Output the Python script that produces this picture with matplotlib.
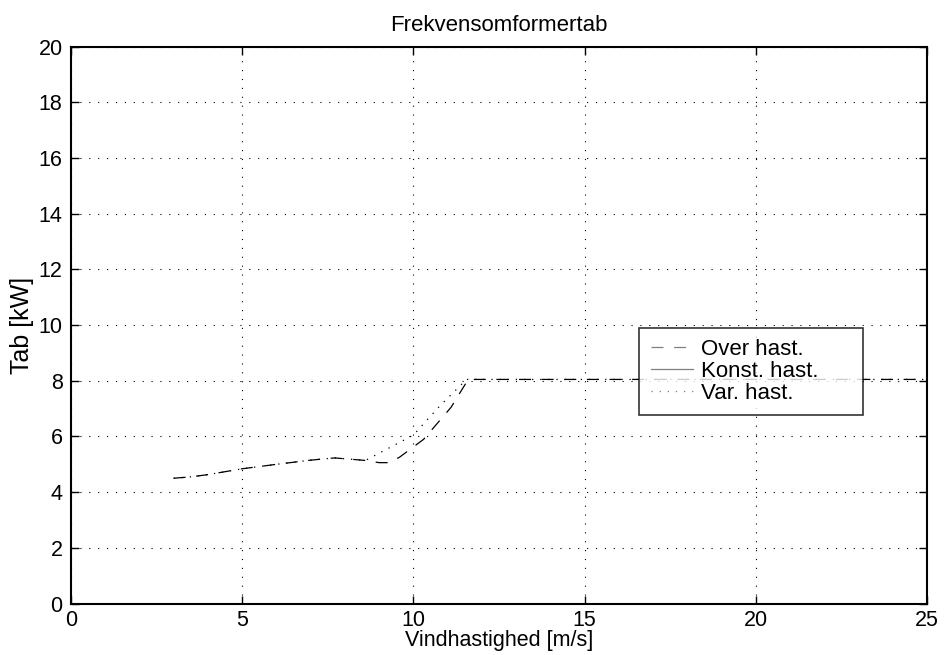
import matplotlib
matplotlib.use("Agg")
import matplotlib.pyplot as plt

# Frekvensomformertab
over_x = [3, 3.5, 4, 5, 6, 7, 7.7, 8.6, 9.0, 9.3, 9.6, 10.3, 11.1, 11.6, 25]
over_y = [4.5, 4.55, 4.63, 4.84, 5.0, 5.15, 5.23, 5.14, 5.06, 5.06, 5.26, 5.9, 7.05, 8.05, 8.05]

konst_x = []
konst_y = []

var_x = [3, 3.5, 4, 5, 6, 7, 7.7, 8.6, 10.0, 10.75, 11.55, 25]
var_y = [4.5, 4.55, 4.63, 4.84, 5.0, 5.15, 5.23, 5.14, 6.05, 7.07, 8.05, 8.05]

labels = ["Over hast.", "Konst. hast.", "Var. hast."]

plt.rcParams["font.family"] = ["Liberation Sans", "DejaVu Sans"]

fig = plt.figure(figsize=(9.51, 6.55), dpi=100)
ax = fig.add_axes([0.0745, 0.0786, 0.9005, 0.850])

ax.plot(over_x, over_y, color="black", linestyle=(0, (9.6, 8.5)), linewidth=0.9, label=labels[0])
ax.plot(konst_x, konst_y, color="black", linestyle="-", linewidth=0.9, label=labels[1])
ax.plot(var_x, var_y, color="black", linestyle=(0, (1, 5.5)), linewidth=0.9, label=labels[2])

ax.set_xlim(0, 25)
ax.set_ylim(0, 20)
ax.set_xticks(range(0, 26, 5))
ax.set_yticks(range(0, 21, 2))
ax.tick_params(direction="in", length=6, width=1, labelsize=15.5, top=True, right=True)
ax.tick_params(axis="x", pad=5)
ax.tick_params(axis="y", pad=6)
ax.grid(True, color="black", linestyle=(0, (1, 7)), linewidth=0.8)
for s in ax.spines.values():
    s.set_linewidth(1.5)

ax.set_xlabel("Vindhastighed [m/s]", fontsize=15.5, labelpad=-1)
ax.set_ylabel("Tab [kW]", fontsize=18, labelpad=3)
ax.set_title("Frekvensomformertab", fontsize=16, pad=11)

leg = ax.legend(loc="lower left", bbox_to_anchor=(0.664, 0.338, 0.261, 0.158), mode="expand",
                fontsize=16, frameon=True, fancybox=False, borderpad=0.5, labelspacing=0.05,
                handlelength=1.9, handletextpad=0.35, borderaxespad=0)
leg.get_frame().set_edgecolor("black")
leg.get_frame().set_linewidth(1.2)
for ln in leg.get_lines():
    ln.set_color("gray")

fig.savefig("out.png", dpi=100)
